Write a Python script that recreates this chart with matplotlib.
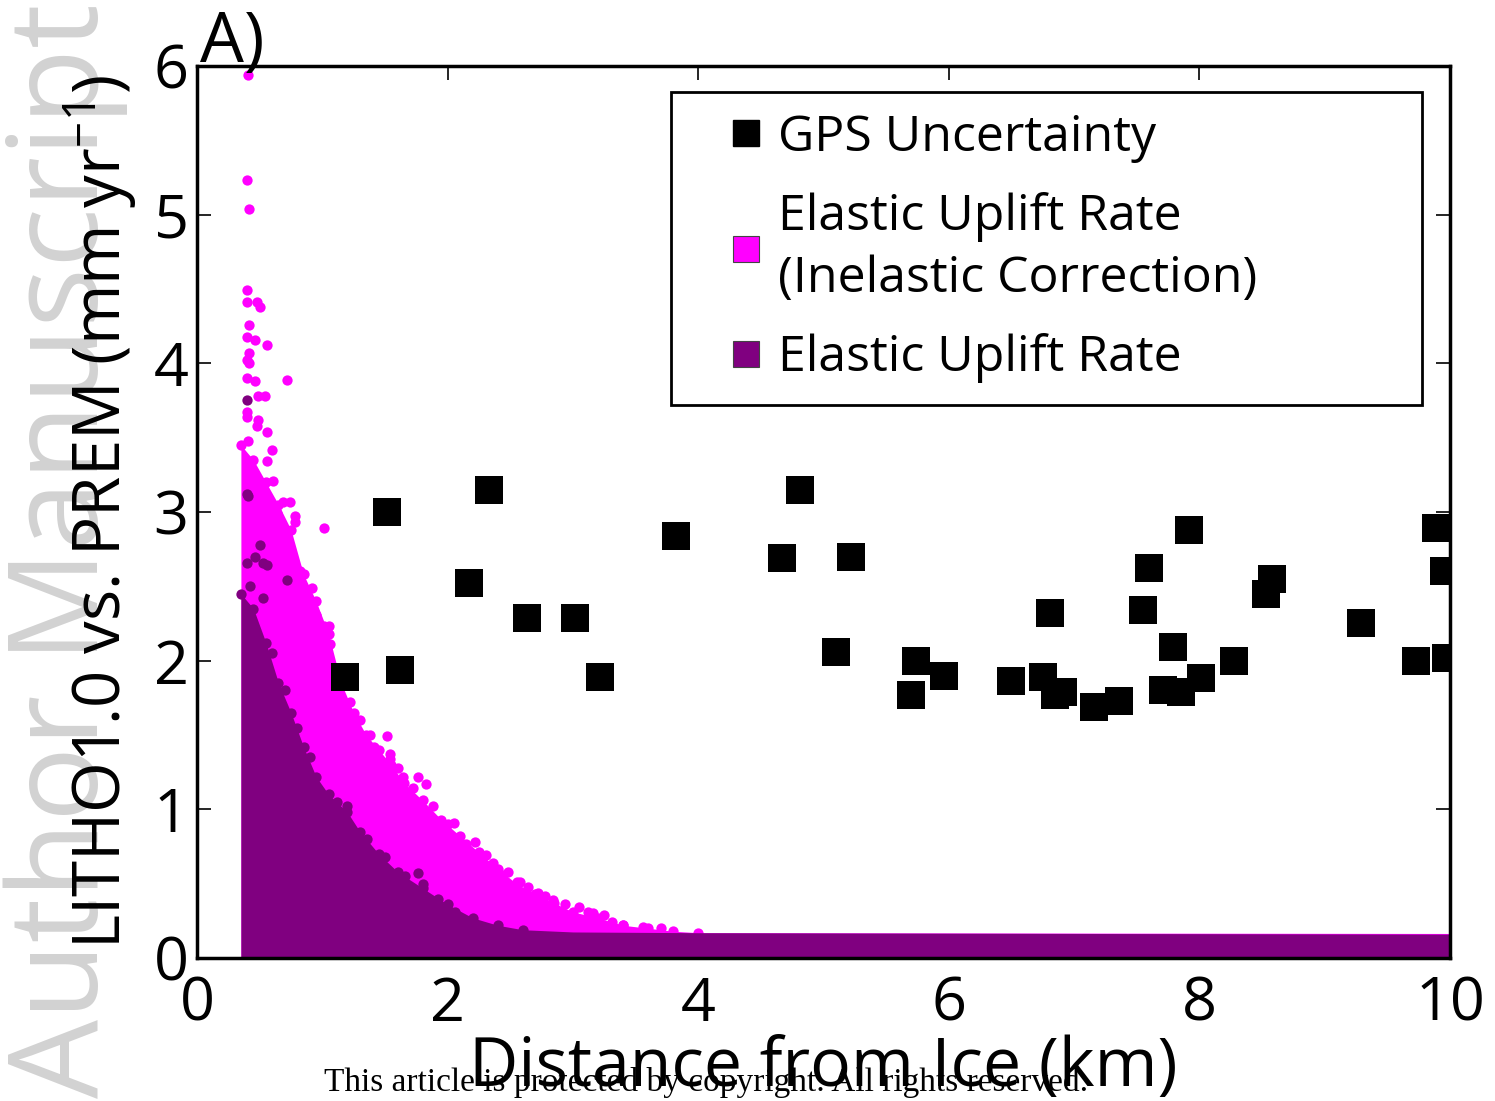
# LITHO1.0 vs PREM elastic uplift rate vs distance from ice

import numpy as np
import matplotlib
matplotlib.use('Agg')
import matplotlib.pyplot as plt
from matplotlib.lines import Line2D
from matplotlib.patches import Rectangle

plt.rcParams['font.family'] = ['Open Sans', 'DejaVu Sans']
plt.rcParams['mathtext.fontset'] = 'custom'
plt.rcParams['mathtext.rm'] = 'Open Sans'
plt.rcParams['mathtext.it'] = 'Open Sans:italic'
plt.rcParams['mathtext.bf'] = 'Open Sans:bold'

# GPS uncertainty (km, mm/yr)
gps_x = [1.18, 1.52, 1.62, 2.17, 2.33, 2.63, 3.02, 3.22, 3.82, 4.67, 4.81, 5.10,
         5.22, 5.70, 5.74, 5.96, 6.50, 6.75, 6.81, 6.85, 6.91, 7.16, 7.36, 7.55,
         7.60, 7.71, 7.79, 7.85, 7.92, 8.01, 8.28, 8.53, 8.58, 9.29, 9.73, 9.89,
         9.95, 9.97]
gps_y = [1.89, 3.00, 1.94, 2.52, 3.15, 2.29, 2.29, 1.89, 2.84, 2.69, 3.15, 2.06,
         2.70, 1.77, 2.00, 1.90, 1.86, 1.89, 2.32, 1.77, 1.79, 1.69, 1.73, 2.34,
         2.62, 1.80, 2.09, 1.79, 2.88, 1.88, 2.00, 2.45, 2.55, 2.25, 2.00, 2.89,
         2.60, 2.02]

# upper edge of the dense inelastic-corrected cloud
mag_x = [0.35, 0.45, 0.55, 0.65, 0.75, 0.85, 0.95, 1.05, 1.15, 1.25, 1.35, 1.45,
         1.55, 1.65, 1.80, 1.95, 2.10, 2.25, 2.40, 2.55, 2.70, 2.85, 3.00, 3.20,
         3.40, 3.60, 3.80, 4.00, 10.0]
mag_y = [3.45, 3.35, 3.20, 3.05, 2.88, 2.58, 2.40, 2.18, 1.85, 1.65, 1.50, 1.40,
         1.30, 1.18, 1.06, 0.93, 0.82, 0.71, 0.60, 0.50, 0.43, 0.37, 0.31, 0.27,
         0.22, 0.20, 0.18, 0.17, 0.165]

# scattered inelastic-corrected points outside the dense part
mag_dot_x = [0.41, 0.40, 0.415, 0.40, 0.40, 0.48, 0.50, 0.415, 0.40, 0.46, 0.56,
             0.415, 0.40, 0.415, 0.72, 0.40, 0.46, 0.49, 0.54, 0.40, 0.40, 0.49,
             0.48, 0.56, 0.41, 0.60, 0.56, 0.61, 0.69, 0.74, 0.78, 0.78, 0.64,
             0.69, 0.76, 0.82, 0.92, 0.88, 0.88, 0.95, 1.01, 1.05, 0.89, 1.06,
             1.04, 0.95, 1.01, 1.52, 1.54, 1.54, 1.41, 1.64, 1.76, 1.83, 1.54,
             1.68, 1.83, 2.05, 1.90, 1.98, 2.15, 2.31, 2.12, 2.43, 2.55, 2.58,
             2.72, 2.84, 2.94, 3.12, 3.16, 3.31, 3.40, 3.56, 3.70,
             1.12, 1.22, 1.30, 1.38, 1.60, 1.72, 1.88, 2.00, 2.22, 2.36, 2.48,
             2.64, 2.78, 3.05, 3.25]
mag_dot_y = [5.94, 5.23, 5.04, 4.49, 4.41, 4.41, 4.38, 4.26, 4.18, 4.16, 4.12,
             4.07, 4.02, 4.00, 3.89, 3.90, 3.88, 3.78, 3.78, 3.67, 3.64, 3.62,
             3.58, 3.54, 3.48, 3.42, 3.34, 3.21, 3.07, 3.07, 2.97, 2.93, 2.99,
             2.86, 2.69, 2.60, 2.49, 2.43, 2.37, 2.31, 2.23, 2.23, 2.17, 2.11,
             2.07, 2.08, 2.89, 1.49, 1.37, 1.34, 1.42, 1.22, 1.22, 1.17, 1.20,
             1.11, 0.91, 0.91, 0.85, 0.78, 0.77, 0.69, 0.70, 0.56, 0.51, 0.51,
             0.44, 0.39, 0.36, 0.31, 0.30, 0.24, 0.22, 0.21, 0.20,
             1.95, 1.72, 1.60, 1.50, 1.28, 1.14, 1.02, 0.90, 0.78, 0.64, 0.58,
             0.48, 0.42, 0.34, 0.29]

# upper edge of the dense elastic cloud
pur_x = [0.35, 0.45, 0.55, 0.65, 0.75, 0.85, 0.95, 1.05, 1.20, 1.30, 1.45, 1.60,
         1.80, 2.00, 2.20, 2.40, 2.60, 3.00, 4.00, 10.0]
pur_y = [2.45, 2.35, 2.12, 1.85, 1.65, 1.42, 1.22, 1.10, 0.98, 0.85, 0.70, 0.58,
         0.47, 0.36, 0.27, 0.22, 0.19, 0.175, 0.17, 0.16]

# scattered elastic points
pur_dot_x = [0.40, 0.40, 0.41, 0.50, 0.46, 0.53, 0.40, 0.56, 0.72, 0.42, 0.53,
             1.76, 1.80, 2.06, 0.98, 1.20, 0.60, 0.70, 0.80, 0.90, 1.12, 1.36,
             1.50, 1.66, 1.92]
pur_dot_y = [3.75, 3.12, 3.11, 2.78, 2.70, 2.66, 2.66, 2.64, 2.54, 2.50, 2.42,
             0.57, 0.50, 0.31, 1.08, 1.02, 2.05, 1.80, 1.55, 1.35, 1.05, 0.80,
             0.68, 0.55, 0.40]

gps_label = 'GPS Uncertainty'
mag_label = 'Elastic Uplift Rate\n(Inelastic Correction)'
pur_label = 'Elastic Uplift Rate'

MAG = '#ff00ff'
PUR = '#800080'
DOT = 55

fig = plt.figure(figsize=(14.95, 11.01), dpi=100)
ax = fig.add_axes([0.1318, 0.1299, 0.8381, 0.8102])

# magenta cloud
ax.fill_between(mag_x, 0, mag_y, color=MAG, lw=0, zorder=1)
ax.scatter(mag_x[:-1], mag_y[:-1], s=DOT, color=MAG, lw=0, zorder=1)
ax.scatter(mag_dot_x, mag_dot_y, s=DOT, color=MAG, lw=0, zorder=1, clip_on=False)

# purple cloud
ax.fill_between(pur_x, 0, pur_y, color=PUR, lw=0, zorder=2)
ax.scatter(pur_x[:-3], pur_y[:-3], s=DOT, color=PUR, lw=0, zorder=2)
ax.scatter(pur_dot_x, pur_dot_y, s=DOT, color=PUR, lw=0, zorder=2)

# gps
ax.scatter(gps_x, gps_y, marker='s', s=420, color='black', lw=0, zorder=3)

ax.set_xlim(0, 10)
ax.set_ylim(0, 6)
ax.set_xticks([0, 2, 4, 6, 8, 10])
ax.set_yticks([0, 1, 2, 3, 4, 5, 6])
ax.tick_params(direction='in', length=10, width=1.2, top=True, right=True,
               labelsize=44)
ax.tick_params(axis='x', pad=12)
ax.tick_params(axis='y', pad=6)
for sp in ax.spines.values():
    sp.set_linewidth(2.5)

ax.set_xlabel('Distance from Ice (km)', fontsize=49, labelpad=0)
ax.set_ylabel('LITHO1.0 vs. PREM (mm yr$^{\\mathregular{-1}}$)', fontsize=47)
ax.yaxis.set_label_coords(-0.046, 0.5)

# legend: entries without frame, box drawn separately
handles = [
    Line2D([], [], ls='none', marker='s', ms=19, mfc='black', mec='black'),
    Line2D([], [], ls='none', marker='s', ms=19, mfc=MAG, mec='#444444', mew=0.8),
    Line2D([], [], ls='none', marker='s', ms=19, mfc=PUR, mec='#444444', mew=0.8),
]
leg = ax.legend(handles, [gps_label, mag_label, pur_label], loc='upper left',
                bbox_to_anchor=(0.422, 0.947), fontsize=36, frameon=False,
                handlelength=0.8, handletextpad=0.24, labelspacing=0.58,
                borderpad=0, borderaxespad=0)
for t in leg.get_texts():
    t.set_linespacing(1.35)
leg.set_zorder(5)
ax.add_patch(Rectangle((0.378, 0.620), 0.600, 0.351, transform=ax.transAxes,
                       facecolor='white', edgecolor='black', lw=2, zorder=4))

fig.text(200 / 1495, 1 - 62 / 1101, 'A)', fontsize=50, ha='left', va='baseline')

# watermark (behind everything) and footer
fig.text(0.044, 0.5, 'Author Manuscript', rotation=90, fontsize=90,
         color='#d2d2d2', ha='center', va='center', zorder=-1)
fig.text(0.472, 1 - 1082 / 1101, 'This article is protected by copyright. All rights reserved.',
         fontsize=24, ha='center', va='center', family=['Liberation Serif', 'DejaVu Serif'],
         zorder=10)

fig.savefig('out.png', dpi=100)
